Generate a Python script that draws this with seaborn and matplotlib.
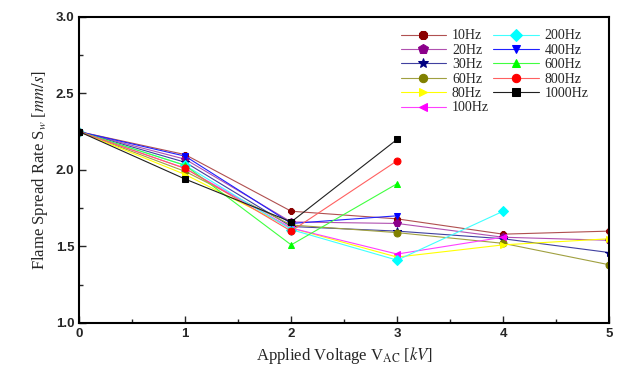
import numpy as np
import matplotlib
matplotlib.use("Agg")
import matplotlib.pyplot as plt
from matplotlib.ticker import MultipleLocator
import pandas as pd
import seaborn as sns

sns.set_style("white")
plt.rcParams['mathtext.fontset'] = 'stix'

# data
volts = [0, 1, 2, 3, 4, 5]
hz10 = [2.25, 2.10, 1.73, 1.68, 1.58, 1.60]
hz20 = [2.25, 2.07, 1.66, 1.65, 1.56, 1.54]
hz30 = [2.25, 2.05, 1.63, 1.60, 1.55, 1.46]
hz60 = [2.25, 1.99, 1.64, 1.59, 1.52, 1.38]
hz80 = [2.25, 1.97, 1.62, 1.43, 1.51, 1.55]
hz100 = [2.25, 2.01, 1.62, 1.45, 1.56]
hz200 = [2.25, 2.03, 1.61, 1.41, 1.73]
hz400 = [2.25, 2.09, 1.65, 1.70]
hz600 = [2.25, 2.03, 1.51, 1.91]
hz800 = [2.25, 2.01, 1.60, 2.06]
hz1000 = [2.25, 1.94, 1.66, 2.20]

labels = ['10Hz', '20Hz', '30Hz', '60Hz', '80Hz', '100Hz',
          '200Hz', '400Hz', '600Hz', '800Hz', '1000Hz']
series = [hz10, hz20, hz30, hz60, hz80, hz100, hz200, hz400, hz600, hz800, hz1000]
colors = ['#8b0000', '#8b008b', '#000080', '#808000', '#ffff00', '#ff00ff',
          '#00ffff', '#0000ff', '#00ff00', '#ff0000', '#000000']
line_colors = ['#b05050', '#b050b0', '#4040a0', '#a0a040', '#ffff00', '#ff40ff',
               '#40ffff', '#2020ff', '#40ff40', '#ff6060', '#202020']
markers = ['8', 'p', '*', 'o', '>', '<', 'D', 'v', '^', 'o', 's']
msizes = [5, 6, 6, 5, 5, 5, 5, 5, 5, 5, 5]

fig, ax = plt.subplots(figsize=(6.19, 3.69), dpi=100)
fig.subplots_adjust(left=0.128, right=0.984, bottom=0.125, top=0.954)

for lab, vals, c, lc, m, ms in zip(labels, series, colors, line_colors, markers, msizes):
    df = pd.DataFrame({'v': volts[:len(vals)], 's': vals})
    sns.lineplot(data=df, x='v', y='s', ax=ax, color=lc, linewidth=0.8,
                 marker=m, markersize=ms, markerfacecolor=c, markeredgecolor=c,
                 label=lab, sort=False)

ax.set_xlim(0, 5)
ax.set_ylim(1.0, 3.0)
ax.xaxis.set_major_locator(MultipleLocator(1))
ax.xaxis.set_minor_locator(MultipleLocator(0.5))
ax.yaxis.set_major_locator(MultipleLocator(0.5))
ax.yaxis.set_minor_locator(MultipleLocator(0.25))
ax.tick_params(which='both', direction='in', bottom=True, left=True,
               top=False, right=False)
ax.tick_params(which='major', length=5, width=1)
ax.tick_params(which='minor', length=3, width=1)
ax.yaxis.set_major_formatter(matplotlib.ticker.FormatStrFormatter('%.1f'))
for t in ax.get_xticklabels() + ax.get_yticklabels():
    t.set_family('Liberation Sans')
    t.set_fontweight('bold')
    t.set_fontsize(9.5)
for sp in ax.spines.values():
    sp.set_color('black')
    sp.set_linewidth(1.5)

ax.set_xlabel(r'Applied Voltage V$_{\rm AC}$ [$kV$]', family='Liberation Serif',
              fontsize=12)
ax.set_ylabel(r'Flame Spread Rate S$_{w}$ [$mm/s$]', family='Liberation Serif',
              fontsize=12)

leg = ax.legend(ncol=2, loc='upper right', frameon=False, markerscale=1.2,
                prop={'family': 'Liberation Serif', 'size': 10},
                handlelength=3.3, columnspacing=0.3, handletextpad=0.4,
                labelspacing=0.1, bbox_to_anchor=(0.985, 1.0))

fig.savefig('out.png', dpi=100)
